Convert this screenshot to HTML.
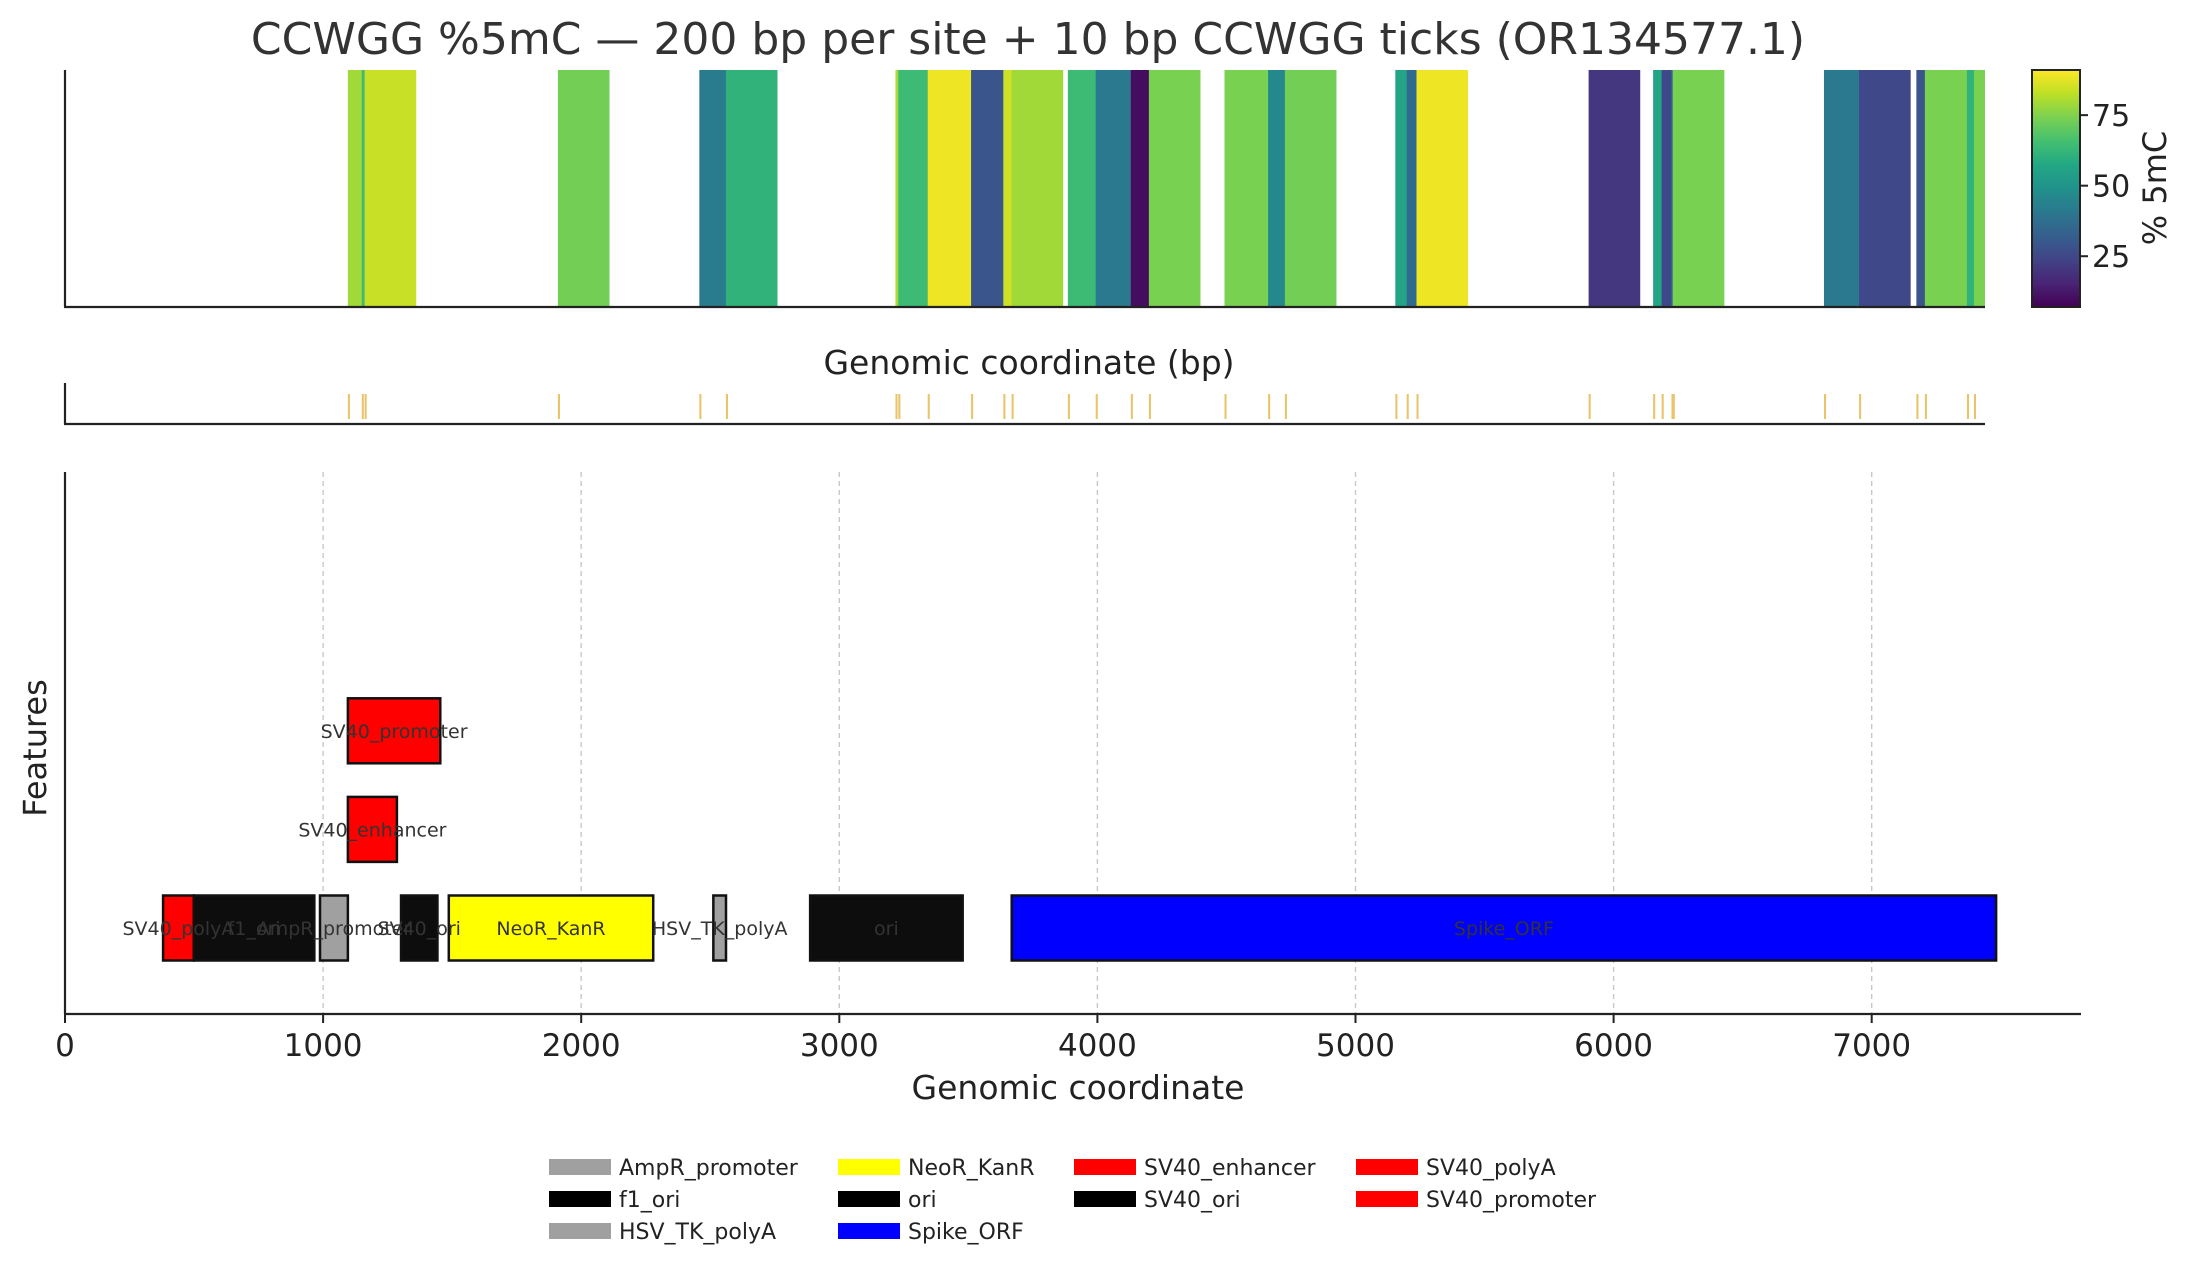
<!DOCTYPE html>
<html><head><meta charset="utf-8"><style>
html,body{margin:0;padding:0;background:#fff;}
svg{display:block;font-family:"DejaVu Sans","Liberation Sans",sans-serif;}
</style></head><body>
<svg id="chart" width="2196" height="1268" viewBox="0 0 2196 1268" xmlns="http://www.w3.org/2000/svg">
<rect width="2196" height="1268" fill="#fff"/>
<text x="1028" y="54" font-size="44" fill="#333" text-anchor="middle">CCWGG %5mC — 200 bp per site + 10 bp CCWGG ticks (OR134577.1)</text>
<g id="heat"></g>
<g id="ticks"></g>
<g id="cbar"></g>
<g id="grid"></g>
<g id="feats"></g>
<g id="axes"></g>
<g id="legend"></g>
<text x="1029" y="374" font-size="33" fill="#222" text-anchor="middle">Genomic coordinate (bp)</text>
<text x="1078" y="1099" font-size="33" fill="#222" text-anchor="middle">Genomic coordinate</text>
<text transform="translate(46,748) rotate(-90)" font-size="32" fill="#222" text-anchor="middle">Features</text>
<text transform="translate(2166,188) rotate(-90)" font-size="32" fill="#222" text-anchor="middle">% 5mC</text>
</svg>
<script>
const sitePos=[1096,1150,1161,1910,2458,2561,3218,3229,3343,3511,3636,3668,3886,3994,4130,4200,4493,4662,4727,5155,5199,5237,5904,6154,6187,6225,6230,6816,6952,7174,7207,7370,7397];
const siteVal=[79,64,84,73,42,61,80,64,89,29,85,79,64,41,10,74,74,46,73,56,36,89,20,56,25,41,74,41,25,29,74,61,74];
const featNames=["SV40_polyA","f1_ori","AmpR_promoter","SV40_ori","NeoR_KanR","HSV_TK_polyA","ori","Spike_ORF","SV40_enhancer","SV40_promoter"];
const featStart=[380,499,988,1302,1487,2512,2887,3668,1096,1096];
const featEnd=[499,966,1096,1443,2279,2561,3478,7482,1286,1454];
const featRow=[0,0,0,0,0,0,0,0,1,2];
const featColor=["#ff0000","#0d0d0d","#a0a0a0","#0d0d0d","#ffff00","#a0a0a0","#0d0d0d","#0000ff","#ff0000","#ff0000"];
const xTicks=[0,1000,2000,3000,4000,5000,6000,7000];
const cbTicks=[25,50,75];
const legNames=["AmpR_promoter","f1_ori","HSV_TK_polyA","NeoR_KanR","ori","Spike_ORF","SV40_enhancer","SV40_ori","SV40_polyA","SV40_promoter"];
const legColors=["#a0a0a0","#000000","#a0a0a0","#ffff00","#000000","#0000ff","#ff0000","#000000","#ff0000","#ff0000"];
const VMIN=7,VMAX=91,SEQLEN=7440,WIN=200,TICKW=10;

const NS="http://www.w3.org/2000/svg";
function mk(t,a,p){const e=document.createElementNS(NS,t);for(const k in a)e.setAttribute(k,a[k]);p.appendChild(e);return e;}
const vir=[[68,1,84],[72,36,117],[65,68,135],[53,95,141],[42,120,142],[33,145,140],[34,168,132],[68,191,112],[122,209,81],[189,223,38],[253,231,37]];
function viridis(f){f=Math.max(0,Math.min(1,f));const s=f*10,i=Math.min(9,Math.floor(s)),t=s-i;const a=vir[i],b=vir[i+1];return `rgb(${a.map((v,j)=>Math.round(v+(b[j]-v)*t)).join(',')})`;}
const TR=1985, BR=2081;
const topX=v=>65+(v/SEQLEN)*(TR-65);
const botX=v=>65+v*0.2581;
const rowY=r=>928-r*98.6;
const CBX=2032;
const cbY=v=>307-(v-VMIN)/(VMAX-VMIN)*237;

const heat=document.getElementById('heat');
const cp=mk('clipPath',{id:'topclip'},heat);mk('rect',{x:65,y:70,width:TR-65,height:237},cp);
const hg=mk('g',{'clip-path':'url(#topclip)'},heat);
sitePos.forEach((p,i)=>{const r=mk('rect',{x:topX(p),y:70,width:topX(p+WIN)-topX(p),height:237,fill:viridis((siteVal[i]-VMIN)/(VMAX-VMIN))},hg);

});
const tk=document.getElementById('ticks');
sitePos.forEach(p=>{const r=mk('rect',{x:topX(p),y:394,width:Math.max(1.5,topX(p+TICKW)-topX(p)-0.5),height:25,fill:'#e9c46a'},tk);

});
const cb=document.getElementById('cbar');
const df=mk('defs',{},cb);const lg=mk('linearGradient',{id:'vg',x1:0,y1:1,x2:0,y2:0},df);
for(let i=0;i<=10;i++)mk('stop',{offset:i/10,'stop-color':viridis(i/10)},lg);
mk('rect',{x:CBX,y:70,width:48,height:237,fill:'url(#vg)',stroke:'#222','stroke-width':2},cb);
cbTicks.forEach(v=>{mk('line',{x1:CBX+48,x2:CBX+56,y1:cbY(v),y2:cbY(v),stroke:'#222','stroke-width':2},cb);
const t=mk('text',{x:CBX+60,y:cbY(v)+11,'font-size':30,fill:'#222'},cb);t.textContent=v;

});
const gr=document.getElementById('grid');
xTicks.slice(1).forEach(v=>{const l=mk('line',{x1:botX(v),x2:botX(v),y1:472,y2:1014,stroke:'#c8c8c8','stroke-width':1.4,'stroke-dasharray':'5,4'},gr);

});
const fg=document.getElementById('feats');
featNames.forEach((n,i)=>{const x0=botX(featStart[i]),x1=botX(featEnd[i]),cy=rowY(featRow[i]);
const r=mk('rect',{x:x0,y:cy-32.5,width:x1-x0,height:65,fill:featColor[i],stroke:'#111','stroke-width':2.5},fg);

});
featNames.forEach((n,i)=>{const cx=(botX(featStart[i])+botX(featEnd[i]))/2,cy=rowY(featRow[i]);
const t=mk('text',{x:cx,y:cy+7,'font-size':19,fill:'#333','text-anchor':'middle'},fg);t.textContent=n;

});
const ax=document.getElementById('axes');
const sp=(x1,y1,x2,y2)=>mk('line',{x1,y1,x2,y2,stroke:'#222','stroke-width':2.2},ax);
sp(65,70,65,307);sp(64,307,TR,307);
sp(65,383,65,424);sp(64,424,TR,424);
sp(65,472,65,1014);sp(64,1014,BR,1014);
xTicks.forEach(v=>{mk('line',{x1:botX(v),x2:botX(v),y1:1014,y2:1023,stroke:'#222','stroke-width':2},ax);
const t=mk('text',{x:botX(v),y:1056,'font-size':31,fill:'#222','text-anchor':'middle'},ax);t.textContent=v;

});
const lgd=document.getElementById('legend');
const colX=[549,838,1074,1356],rowYL=[1167,1199,1231],perCol=[3,3,2,2];
let k=0;perCol.forEach((c,ci)=>{for(let ri=0;ri<c;ri++){const i=k++;
const g=mk('g',{},lgd);


mk('rect',{x:colX[ci],y:rowYL[ri]-8,width:62,height:16,fill:legColors[i]},g);
const t=mk('text',{x:colX[ci]+70,y:rowYL[ri]+8,'font-size':22,fill:'#222'},g);t.textContent=legNames[i];}});
</script>
</body></html>
